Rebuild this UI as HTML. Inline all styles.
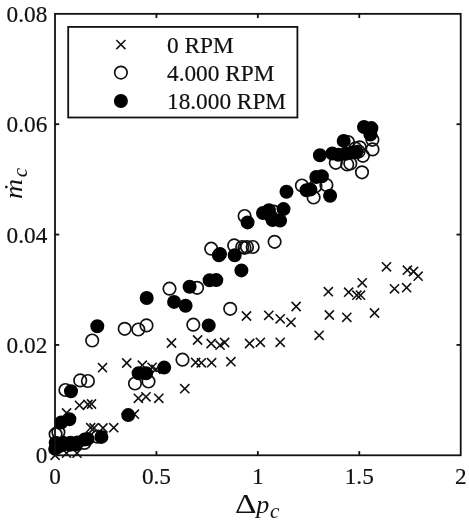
<!DOCTYPE html>
<html><head><meta charset="utf-8"><title>plot</title>
<style>
html,body{margin:0;padding:0;background:#fff;}
body{width:469px;height:522px;overflow:hidden;}
svg{display:block;}
text{font-family:"Liberation Serif","DejaVu Serif",serif;fill:#111;}
.t{stroke:#111;stroke-width:0.18px;}
.t{font-size:23.3px;}
.it{font-style:italic;}
</style></head><body>
<svg width="469" height="522" viewBox="0 0 469 522">
<rect width="469" height="522" fill="#fff"/>

<g stroke="#111" stroke-width="1.55" fill="none" stroke-linecap="butt">
<path d="M98.0 363.1L107.0 372.2M98.0 372.2L107.0 363.1"/>
<path d="M122.2 358.4L131.3 367.6M122.2 367.6L131.3 358.4"/>
<path d="M137.8 360.6L146.9 369.8M137.8 369.8L146.9 360.6"/>
<path d="M147.5 362.8L156.7 371.9M147.5 371.9L156.7 362.8"/>
<path d="M151.3 364.8L160.5 373.9M151.3 373.9L160.5 364.8"/>
<path d="M133.8 393.8L142.9 402.9M133.8 402.9L142.9 393.8"/>
<path d="M141.4 392.2L150.6 401.4M141.4 401.4L150.6 392.2"/>
<path d="M154.2 393.8L163.4 402.9M154.2 402.9L163.4 393.8"/>
<path d="M74.9 400.8L84.0 409.9M74.9 409.9L84.0 400.8"/>
<path d="M83.4 399.9L92.5 409.1M83.4 409.1L92.5 399.9"/>
<path d="M87.0 399.4L96.0 408.6M87.0 408.6L96.0 399.4"/>
<path d="M62.0 408.4L71.1 417.6M62.0 417.6L71.1 408.4"/>
<path d="M129.8 409.6L139.0 418.8M129.8 418.8L139.0 409.6"/>
<path d="M86.2 423.1L95.2 432.2M86.2 432.2L95.2 423.1"/>
<path d="M89.5 423.4L98.5 432.6M89.5 432.6L98.5 423.4"/>
<path d="M98.4 423.4L107.5 432.6M98.4 432.6L107.5 423.4"/>
<path d="M109.2 423.1L118.3 432.2M109.2 432.2L118.3 423.1"/>
<path d="M62.0 448.6L71.0 457.8M62.0 457.8L71.0 448.6"/>
<path d="M72.5 448.6L81.5 457.8M72.5 457.8L81.5 448.6"/>
<path d="M50.6 450.8L59.6 459.9M50.6 459.9L59.6 450.8"/>
<path d="M241.9 311.4L251.1 320.6M241.9 320.6L251.1 311.4"/>
<path d="M264.2 310.8L273.4 319.9M264.2 319.9L273.4 310.8"/>
<path d="M275.6 314.2L284.8 323.4M275.6 323.4L284.8 314.2"/>
<path d="M166.9 338.4L176.1 347.6M166.9 347.6L176.1 338.4"/>
<path d="M193.0 335.4L202.2 344.6M193.0 344.6L202.2 335.4"/>
<path d="M206.6 338.9L215.8 348.1M206.6 348.1L215.8 338.9"/>
<path d="M215.5 340.6L224.7 349.7M215.5 349.7L224.7 340.6"/>
<path d="M220.1 337.9L229.2 347.1M220.1 347.1L229.2 337.9"/>
<path d="M245.0 338.9L254.2 348.1M245.0 348.1L254.2 338.9"/>
<path d="M255.8 337.8L264.9 346.9M255.8 346.9L264.9 337.8"/>
<path d="M275.6 337.8L284.8 346.9M275.6 346.9L284.8 337.8"/>
<path d="M191.1 357.9L200.2 367.1M191.1 367.1L200.2 357.9"/>
<path d="M196.8 358.3L205.9 367.4M196.8 367.4L205.9 358.3"/>
<path d="M207.0 358.1L216.2 367.2M207.0 367.2L216.2 358.1"/>
<path d="M226.3 357.1L235.5 366.2M226.3 366.2L235.5 357.1"/>
<path d="M180.2 384.1L189.4 393.2M180.2 393.2L189.4 384.1"/>
<path d="M381.9 262.2L391.1 271.4M381.9 271.4L391.1 262.2"/>
<path d="M357.6 278.2L366.8 287.4M357.6 287.4L366.8 278.2"/>
<path d="M323.8 287.1L332.9 296.2M323.8 296.2L332.9 287.1"/>
<path d="M344.1 287.6L353.2 296.8M344.1 296.8L353.2 287.6"/>
<path d="M352.3 290.6L361.4 299.7M352.3 299.7L361.4 290.6"/>
<path d="M355.9 290.6L365.1 299.7M355.9 299.7L365.1 290.6"/>
<path d="M291.6 301.9L300.7 311.1M291.6 311.1L300.7 301.9"/>
<path d="M286.4 317.8L295.6 326.9M286.4 326.9L295.6 317.8"/>
<path d="M324.8 310.4L333.9 319.6M324.8 319.6L333.9 310.4"/>
<path d="M342.2 312.8L351.4 321.9M342.2 321.9L351.4 312.8"/>
<path d="M369.9 308.4L379.1 317.6M369.9 317.6L379.1 308.4"/>
<path d="M314.6 330.8L323.7 339.9M314.6 339.9L323.7 330.8"/>
<path d="M402.8 265.6L411.9 274.8M402.8 274.8L411.9 265.6"/>
<path d="M408.9 266.9L418.1 276.1M408.9 276.1L418.1 266.9"/>
<path d="M413.6 271.6L422.7 280.7M413.6 280.7L422.7 271.6"/>
<path d="M389.9 284.3L399.1 293.4M389.9 293.4L399.1 284.3"/>
<path d="M402.1 283.1L411.2 292.2M402.1 292.2L411.2 283.1"/>
</g>
<g stroke="#111" stroke-width="1.7" fill="none">
<circle cx="92.2" cy="340.5" r="6.25"/>
<circle cx="135.0" cy="383.5" r="6.25"/>
<circle cx="148.5" cy="381.5" r="6.25"/>
<circle cx="80.2" cy="380.4" r="6.25"/>
<circle cx="87.9" cy="381.0" r="6.25"/>
<circle cx="65.4" cy="390.0" r="6.25"/>
<circle cx="97.6" cy="436.7" r="6.25"/>
<circle cx="58.4" cy="432.2" r="6.25"/>
<circle cx="55.6" cy="434.2" r="6.25"/>
<circle cx="84.3" cy="442.9" r="6.25"/>
<circle cx="169.5" cy="288.7" r="6.25"/>
<circle cx="124.7" cy="328.8" r="6.25"/>
<circle cx="138.3" cy="329.5" r="6.25"/>
<circle cx="146.5" cy="325.4" r="6.25"/>
<circle cx="274.6" cy="241.8" r="6.25"/>
<circle cx="211.2" cy="248.7" r="6.25"/>
<circle cx="234.2" cy="245.4" r="6.25"/>
<circle cx="242.2" cy="247.0" r="6.25"/>
<circle cx="244.5" cy="247.8" r="6.25"/>
<circle cx="247.0" cy="247.0" r="6.25"/>
<circle cx="252.7" cy="247.0" r="6.25"/>
<circle cx="197.1" cy="287.8" r="6.25"/>
<circle cx="230.2" cy="308.8" r="6.25"/>
<circle cx="193.3" cy="324.7" r="6.25"/>
<circle cx="182.5" cy="359.7" r="6.25"/>
<circle cx="335.8" cy="162.8" r="6.25"/>
<circle cx="301.9" cy="185.5" r="6.25"/>
<circle cx="326.4" cy="185.0" r="6.25"/>
<circle cx="313.6" cy="197.5" r="6.25"/>
<circle cx="273.7" cy="211.6" r="6.25"/>
<circle cx="244.6" cy="216.0" r="6.25"/>
<circle cx="372.4" cy="139.8" r="6.25"/>
<circle cx="372.5" cy="149.4" r="6.25"/>
<circle cx="348.0" cy="142.0" r="6.25"/>
<circle cx="359.7" cy="147.3" r="6.25"/>
<circle cx="358.6" cy="151.6" r="6.25"/>
<circle cx="362.9" cy="155.8" r="6.25"/>
<circle cx="355.4" cy="148.4" r="6.25"/>
<circle cx="347.2" cy="164.4" r="6.25"/>
<circle cx="350.3" cy="163.5" r="6.25"/>
<circle cx="362.0" cy="172.3" r="6.25"/>
<circle cx="315.4" cy="186.3" r="6.25"/>
</g>
<g stroke="#000" stroke-width="1.5" fill="#000">
<circle cx="164.2" cy="367.6" r="6.25"/>
<circle cx="138.6" cy="373.2" r="6.25"/>
<circle cx="146.2" cy="373.2" r="6.25"/>
<circle cx="71.0" cy="391.2" r="6.25"/>
<circle cx="128.2" cy="415.1" r="6.25"/>
<circle cx="69.4" cy="419.2" r="6.25"/>
<circle cx="61.2" cy="422.5" r="6.25"/>
<circle cx="101.4" cy="436.9" r="6.25"/>
<circle cx="87.6" cy="438.9" r="6.25"/>
<circle cx="84.6" cy="439.6" r="6.25"/>
<circle cx="77.5" cy="442.6" r="6.25"/>
<circle cx="70.6" cy="442.7" r="6.25"/>
<circle cx="63.1" cy="442.7" r="6.25"/>
<circle cx="55.7" cy="442.7" r="6.25"/>
<circle cx="55.2" cy="448.9" r="6.25"/>
<circle cx="58.5" cy="446.5" r="6.25"/>
<circle cx="63.1" cy="444.7" r="6.25"/>
<circle cx="70.0" cy="444.7" r="6.25"/>
<circle cx="75.5" cy="444.5" r="6.25"/>
<circle cx="146.7" cy="298.0" r="6.25"/>
<circle cx="97.3" cy="326.2" r="6.25"/>
<circle cx="247.6" cy="222.4" r="6.25"/>
<circle cx="272.6" cy="220.0" r="6.25"/>
<circle cx="218.9" cy="255.3" r="6.25"/>
<circle cx="234.7" cy="255.2" r="6.25"/>
<circle cx="241.4" cy="270.4" r="6.25"/>
<circle cx="209.6" cy="280.3" r="6.25"/>
<circle cx="216.3" cy="280.1" r="6.25"/>
<circle cx="189.6" cy="286.8" r="6.25"/>
<circle cx="174.1" cy="301.9" r="6.25"/>
<circle cx="185.6" cy="305.7" r="6.25"/>
<circle cx="208.7" cy="325.4" r="6.25"/>
<circle cx="319.9" cy="155.3" r="6.25"/>
<circle cx="332.3" cy="153.5" r="6.25"/>
<circle cx="316.3" cy="177.0" r="6.25"/>
<circle cx="321.9" cy="176.2" r="6.25"/>
<circle cx="306.5" cy="190.3" r="6.25"/>
<circle cx="310.4" cy="189.6" r="6.25"/>
<circle cx="330.1" cy="195.8" r="6.25"/>
<circle cx="286.5" cy="191.7" r="6.25"/>
<circle cx="263.0" cy="213.0" r="6.25"/>
<circle cx="268.9" cy="210.2" r="6.25"/>
<circle cx="271.2" cy="216.8" r="6.25"/>
<circle cx="280.1" cy="220.6" r="6.25"/>
<circle cx="283.5" cy="209.1" r="6.25"/>
<circle cx="220.0" cy="253.9" r="6.25"/>
<circle cx="364.0" cy="127.0" r="6.25"/>
<circle cx="371.4" cy="128.1" r="6.25"/>
<circle cx="370.4" cy="134.5" r="6.25"/>
<circle cx="343.7" cy="140.9" r="6.25"/>
<circle cx="338.4" cy="154.8" r="6.25"/>
<circle cx="345.8" cy="153.7" r="6.25"/>
<circle cx="352.2" cy="152.6" r="6.25"/>
<circle cx="356.2" cy="152.2" r="6.25"/>
</g>
<g stroke="#111" stroke-width="1.8" fill="none" stroke-linecap="butt">
<rect x="55.0" y="13.85" width="405.70" height="441.45"/>
<line x1="156.43" y1="455.30" x2="156.43" y2="451.10"/>
<line x1="156.43" y1="13.85" x2="156.43" y2="18.05"/>
<line x1="257.85" y1="455.30" x2="257.85" y2="451.10"/>
<line x1="257.85" y1="13.85" x2="257.85" y2="18.05"/>
<line x1="359.27" y1="455.30" x2="359.27" y2="451.10"/>
<line x1="359.27" y1="13.85" x2="359.27" y2="18.05"/>
<line x1="55.00" y1="344.94" x2="59.20" y2="344.94"/>
<line x1="460.70" y1="344.94" x2="456.50" y2="344.94"/>
<line x1="55.00" y1="234.58" x2="59.20" y2="234.58"/>
<line x1="460.70" y1="234.58" x2="456.50" y2="234.58"/>
<line x1="55.00" y1="124.21" x2="59.20" y2="124.21"/>
<line x1="460.70" y1="124.21" x2="456.50" y2="124.21"/>
</g>
<rect x="68.2" y="26.9" width="229.2" height="90.6" fill="#fff" stroke="#111" stroke-width="1.8"/>
<path d="M116.35 40.05L125.45 49.15M116.35 49.15L125.45 40.05" stroke="#111" stroke-width="1.55" fill="none"/>
<circle cx="120.9" cy="72.6" r="6.25" stroke="#111" stroke-width="1.7" fill="none"/>
<circle cx="120.9" cy="101.0" r="6.25" stroke="#000" stroke-width="1.5" fill="#000"/>
<text class="t" transform="translate(167.00,52.90) scale(1,1.025)" text-anchor="start">0 RPM</text>
<text class="t" transform="translate(167.00,81.20) scale(1,1.025)" text-anchor="start">4.000 RPM</text>
<text class="t" transform="translate(167.00,109.30) scale(1,1.025)" text-anchor="start">18.000 RPM</text>
<text class="t" transform="translate(47.30,463.40) scale(1,1.025)" text-anchor="end">0</text>
<text class="t" transform="translate(47.30,353.04) scale(1,1.025)" text-anchor="end">0.02</text>
<text class="t" transform="translate(47.30,242.68) scale(1,1.025)" text-anchor="end">0.04</text>
<text class="t" transform="translate(47.30,132.31) scale(1,1.025)" text-anchor="end">0.06</text>
<text class="t" transform="translate(47.30,21.95) scale(1,1.025)" text-anchor="end">0.08</text>
<text class="t" transform="translate(55.00,484.00) scale(1,1.025)" text-anchor="middle">0</text>
<text class="t" transform="translate(156.43,484.00) scale(1,1.025)" text-anchor="middle">0.5</text>
<text class="t" transform="translate(257.85,484.00) scale(1,1.025)" text-anchor="middle">1</text>
<text class="t" transform="translate(359.27,484.00) scale(1,1.025)" text-anchor="middle">1.5</text>
<text class="t" transform="translate(460.70,484.00) scale(1,1.025)" text-anchor="middle">2</text>
<text transform="translate(234.9,512.5) scale(1.24,1)" font-size="27">Δ</text>
<text class="it" x="256.3" y="512.5" font-size="26">p</text>
<text class="it" x="270.1" y="517.7" font-size="21">c</text>
<g transform="translate(22,199) rotate(-90)"><text class="it" transform="scale(1.05,0.95)" x="0" y="0" font-size="26.5">ṁ</text><text class="it" x="21.8" y="4.9" font-size="21">c</text></g>
</svg></body></html>
